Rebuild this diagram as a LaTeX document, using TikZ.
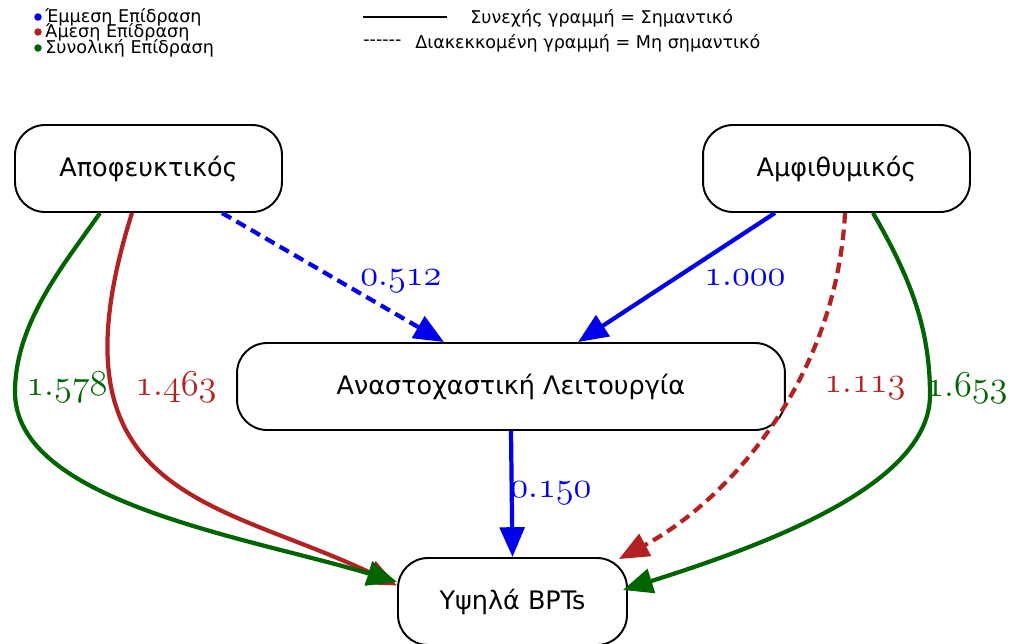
\documentclass[tikz,border=0pt]{standalone}
\usepackage{fontspec}
\setmainfont{DejaVu Sans}
\usetikzlibrary{arrows.meta,calc}
\definecolor{eblue}{RGB}{0,0,235}
\definecolor{ered}{RGB}{178,34,34}
\definecolor{egreen}{RGB}{0,100,0}
\newcommand\nm[2]{{\fontencoding{OML}\fontfamily{cmm}\fontseries{m}\fontshape{it}\fontsize{20.74}{24}\selectfont #1\char58 #2}}
\begin{document}
\begin{tikzpicture}[x=0.02cm,y=-0.02cm,
 box/.style={draw, line width=1.1pt, rounded corners=0.6cm, minimum height=1.74cm, inner sep=0pt, font=\fontsize{14.5}{17}\selectfont},
 edge/.style={line width=2.4pt, -{Triangle[length=17pt,width=14pt]}},
 dsh/.style={dash pattern=on 6pt off 3.5pt},
 lbl/.style={inner sep=0pt},
 legtxt/.style={anchor=west, inner sep=0pt, font=\fontsize{10}{12}\selectfont},
 dot/.style={circle, fill, inner sep=0pt, minimum size=0.15cm}]
\useasboundingbox (0,0) rectangle (1011,643);

\node[box, minimum width=5.34cm] (apo) at (148.5,168.5) {Αποφευκτικός};
\node[box, minimum width=5.34cm] (amf) at (836.5,168.5) {Αμφιθυμικός};
\node[box, minimum width=10.96cm] (ana) at (511,386.5) {Αναστοχαστική Λειτουργία};
\node[box, minimum width=4.58cm] (bpt) at (512.5,601.5) {Υψηλά BPTs};

\coordinate (gl) at (15,392);
\coordinate (gr) at (930,395);

\draw[edge, eblue, dsh] ($(apo.south)+(73.5,0)$) -- ($(ana.north)+(-67,0)$);
\draw[edge, eblue] ($(amf.south)+(-61.5,0)$) -- ($(ana.north)+(67,0)$);
\draw[edge, eblue] (ana.south) -- (bpt.north);

\draw[edge, ered] ($(apo.south)+(-16.5,0)$) .. controls +(-90,285) and +(-180,-86) .. ($(bpt.west)+(0,-16)$);
\draw[edge, egreen] ($(apo.south)+(-48.5,0)$) .. controls +(-34,49) and +(0,-70) .. (gl)
  .. controls +(0,110) and +(-150,-45) .. ($(bpt.west)+(0,-19.5)$);
\draw[edge, ered, dsh] ($(amf.south)+(8.5,0)$) .. controls +(-8,160) and +(115,-62) .. ($(bpt.north east)+(-9,2)$);
\draw[edge, egreen] ($(amf.south)+(36.5,0)$) .. controls +(35,61) and +(0,-70) .. (gr)
  .. controls +(0,90) and +(142,-45) .. ($(bpt.east)+(-5,-11.5)$);

\node[lbl, text=egreen] (l1578) at (67,387) {\nm{1}{578}};
\node[lbl, text=ered] (l1463) at (176,387) {\nm{1}{463}};
\node[lbl, text=ered] (l1113) at (865,388) {\nm{1}{113}};
\node[lbl, text=egreen] (l1653) at (967,388) {\nm{1}{653}};
\node[lbl, text=eblue] (l0512) at (401,281) {\nm{0}{512}};
\node[lbl, text=eblue] (l1000) at (745,278) {\nm{1}{000}};
\node[lbl, text=eblue] (l0150) at (551,493) {\nm{0}{150}};

\node[dot, eblue] (d1) at (38,17) {};
\node[dot, ered] (d2) at (38,32) {};
\node[dot, egreen] (d3) at (38,48) {};
\node[legtxt] (lg1) at (45,17) {Έμμεση Επίδραση};
\node[legtxt] (lg2) at (45,32) {Άμεση Επίδραση};
\node[legtxt] (lg3) at (45,48) {Συνολική Επίδραση};

\coordinate (ls) at (363,17);
\coordinate (le) at (447,17);
\draw[line width=0.7pt] (ls) -- (le);
\node[legtxt] (lg4) at (470,18) {Συνεχής γραμμή = Σημαντικό};
\node[legtxt] (lg5a) at (363,43) {-{}-{}-{}-{}-{}-};
\node[legtxt] (lg5) at (415,43) {Διακεκκομένη γραμμή = Μη σημαντικό};
\end{tikzpicture}
\end{document}
